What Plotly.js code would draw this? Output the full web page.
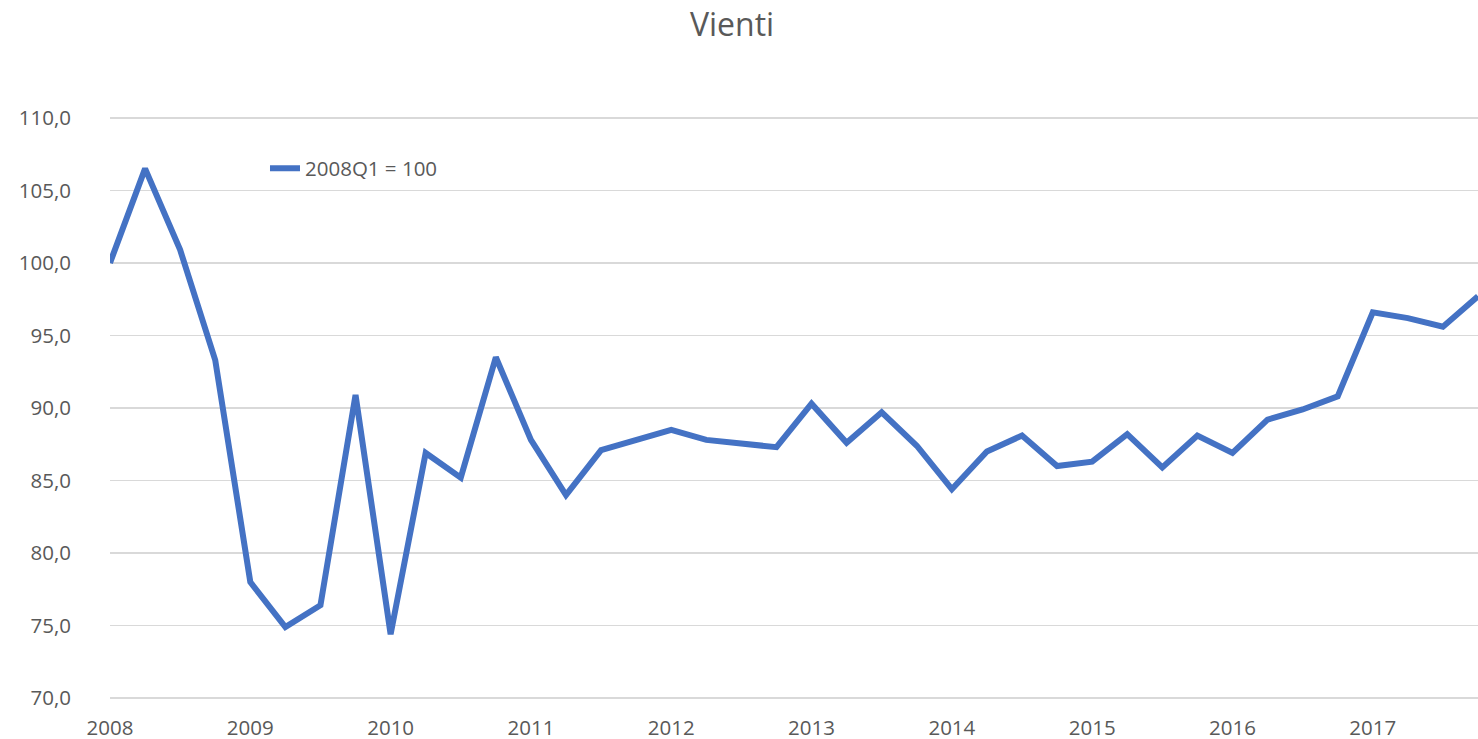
<!DOCTYPE html>
<html>
<head>
<meta charset="utf-8">
<script src="https://cdn.plot.ly/plotly-3.0.1.min.js"></script>
<style>html,body{margin:0;padding:0;background:#fff;}#chart{width:1478px;height:739px;}</style>
</head>
<body>
<div id="chart"></div>
<script>
var quarters = [
  "2008Q1","2008Q2","2008Q3","2008Q4",
  "2009Q1","2009Q2","2009Q3","2009Q4",
  "2010Q1","2010Q2","2010Q3","2010Q4",
  "2011Q1","2011Q2","2011Q3","2011Q4",
  "2012Q1","2012Q2","2012Q3","2012Q4",
  "2013Q1","2013Q2","2013Q3","2013Q4",
  "2014Q1","2014Q2","2014Q3","2014Q4",
  "2015Q1","2015Q2","2015Q3","2015Q4",
  "2016Q1","2016Q2","2016Q3","2016Q4",
  "2017Q1","2017Q2","2017Q3","2017Q4"
];
var values = [
  100.0, 106.5, 100.9, 93.3,
  78.0, 74.9, 76.4, 90.9,
  74.4, 86.9, 85.2, 93.5,
  87.8, 84.0, 87.1, 87.8,
  88.5, 87.8, 87.5, 87.3,
  90.3, 87.6, 89.7, 87.4,
  84.4, 87.0, 88.1, 86.0,
  86.3, 88.2, 85.9, 88.1,
  86.9, 89.2, 89.9, 90.8,
  96.6, 96.2, 95.6, 97.7
];
var yearTicks = ["2008Q1","2009Q1","2010Q1","2011Q1","2012Q1","2013Q1","2014Q1","2015Q1","2016Q1","2017Q1"];
var yearLabels = ["2008","2009","2010","2011","2012","2013","2014","2015","2016","2017"];
var yTicks = [70, 75, 80, 85, 90, 95, 100, 105, 110];
var seriesName = "2008Q1 = 100";

var idx = quarters.map(function(q, i){ return i; });
var tickIdx = yearTicks.map(function(q){ return quarters.indexOf(q); });

var trace = {
  x: idx,
  y: values,
  type: "scatter",
  mode: "lines",
  name: seriesName,
  line: {color: "#4472C4", width: 6, shape: "linear"},
  hovertext: quarters
};

var font = "Open Sans, Liberation Sans, sans-serif";
var layout = {
  width: 1478, height: 739,
  margin: {l: 110, r: 0, t: 115, b: 38},
  paper_bgcolor: "#ffffff",
  plot_bgcolor: "#ffffff",
  separators: ", ",
  font: {family: font, color: "#595959", size: 20},
  title: {text: "Vienti", x: 0.4953, xanchor: "center", y: 0.966, yanchor: "middle", yref: "container",
          font: {family: font, size: 32, color: "#595959"}},
  showlegend: true,
  legend: {x: 0.1133, y: 0.909, xanchor: "left", yanchor: "middle", bgcolor: "rgba(0,0,0,0)",
           font: {family: font, size: 20.5, color: "#595959"}},
  xaxis: {
    range: [0, quarters.length - 1],
    tickmode: "array", tickvals: tickIdx, ticktext: yearLabels,
    showgrid: false, zeroline: false, showline: false, ticks: "",
    ticklabelstandoff: 12,
    tickfont: {family: font, size: 20.5, color: "#595959"}
  },
  yaxis: {
    range: [69.8, 110.2],
    tickmode: "array",
    tickvals: yTicks,
    tickformat: ".1f",
    showgrid: true, gridcolor: "#d9d9d9", gridwidth: 1.5,
    zeroline: false, showline: false, ticks: "",
    ticklabelstandoff: 38,
    tickfont: {family: font, size: 20.5, color: "#595959"}
  }
};

Plotly.newPlot("chart", [trace], layout, {displayModeBar: false, staticPlot: true});
</script>
</body>
</html>
